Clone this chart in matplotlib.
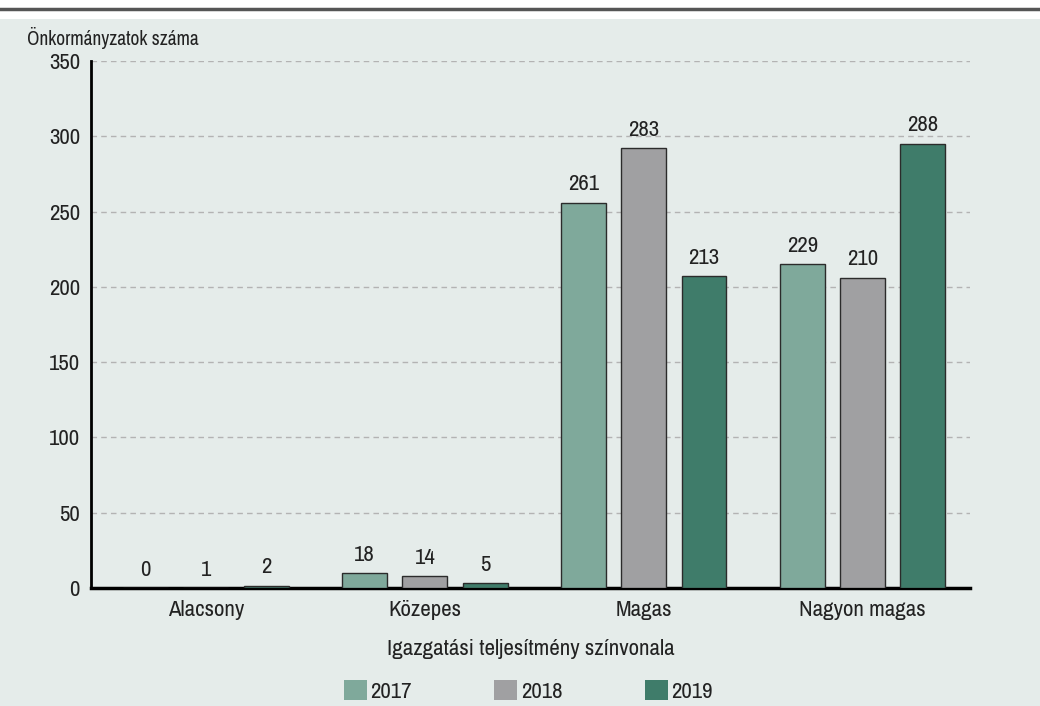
import numpy as np
import matplotlib.pyplot as plt
from matplotlib.patches import Patch
from matplotlib.lines import Line2D
from matplotlib import font_manager

categories = ["Alacsony", "Közepes", "Magas", "Nagyon magas"]
years = ["2017", "2018", "2019"]
# label values printed over the bars
labels_2017 = [0, 18, 261, 229]
labels_2018 = [1, 14, 283, 210]
labels_2019 = [2, 5, 213, 288]
# drawn bar heights as they appear in the picture
bars_2017 = [0, 10, 256, 215]
bars_2018 = [0, 8, 292, 206]
bars_2019 = [1.5, 3.3, 207, 295]
colors = ["#7fa99b", "#a0a0a2", "#3f7c6a"]

# pick a narrow font if there is one
names = sorted({f.name for f in font_manager.fontManager.ttflist})
narrow = [n for n in names if "Narrow" in n or "Condensed" in n]
plt.rcParams['font.family'] = narrow[:1] + ['DejaVu Sans']
plt.rcParams['font.stretch'] = 'condensed'
bg = "#e5ecea"
fs = 16.5
tc = "#222222"

fig = plt.figure(figsize=(10.4, 7.06), dpi=100)
fig.patch.set_facecolor("white")
# background panel and top rule
fig.patches.append(plt.Rectangle((0, 0), 1, 1 - 19 / 706, transform=fig.transFigure,
                                 facecolor=bg, edgecolor="none", zorder=-10))
fig.lines.append(Line2D([0, 1], [1 - 8.5 / 706] * 2, transform=fig.transFigure,
                        color="#555555", linewidth=2.5))

ax = fig.add_axes([91 / 1040, 118 / 706, 879 / 1040, 527 / 706])
ax.set_facecolor(bg)

x = np.arange(len(categories))
step = 0.275
width = 0.205
series = [(bars_2017, labels_2017), (bars_2018, labels_2018), (bars_2019, labels_2019)]
for i, (vals, labs) in enumerate(series):
    pos = x + (i - 1) * step
    ax.bar(pos, vals, width, color=colors[i], edgecolor="#2b2b2b", linewidth=1, zorder=3)
    for p, v, l in zip(pos, vals, labs):
        ax.annotate(str(l), (p, v), xytext=(0, 6), textcoords="offset points",
                    ha="center", va="bottom", fontsize=fs, color=tc)

ax.set_xlim(-0.525, 3.49)
ax.set_ylim(0, 350)
ax.set_yticks(range(0, 351, 50))
ax.tick_params(axis="y", length=0, labelsize=fs, pad=8, labelcolor=tc)
ax.tick_params(axis="x", length=0, labelsize=fs, pad=9, labelcolor=tc)
ax.set_xticks(x)
ax.set_xticklabels(categories)
ax.yaxis.grid(True, linestyle=(0, (4, 3)), color="#b3b3b3", linewidth=1)
ax.set_axisbelow(True)
for s in ["top", "right"]:
    ax.spines[s].set_visible(False)
ax.spines["left"].set_linewidth(2)
ax.spines["bottom"].set_linewidth(2.5)

ax.set_xlabel("Igazgatási teljesítmény színvonala", fontsize=fs, labelpad=13, color=tc)
fig.text(27 / 1040, 1 - 45 / 706, "Önkormányzatok száma", fontsize=14,
         ha="left", va="baseline", color=tc)

handles = [Patch(facecolor=c, edgecolor="none") for c in colors]
fig.legend(handles, years, loc="center", bbox_to_anchor=(0.508, 1 - 691 / 706), ncol=3,
           frameon=False, fontsize=fs, handlelength=1.0, handleheight=1.0,
           handletextpad=0.15, columnspacing=3.6, labelcolor=tc)

fig.savefig("out.png", dpi=100, facecolor=fig.get_facecolor())
